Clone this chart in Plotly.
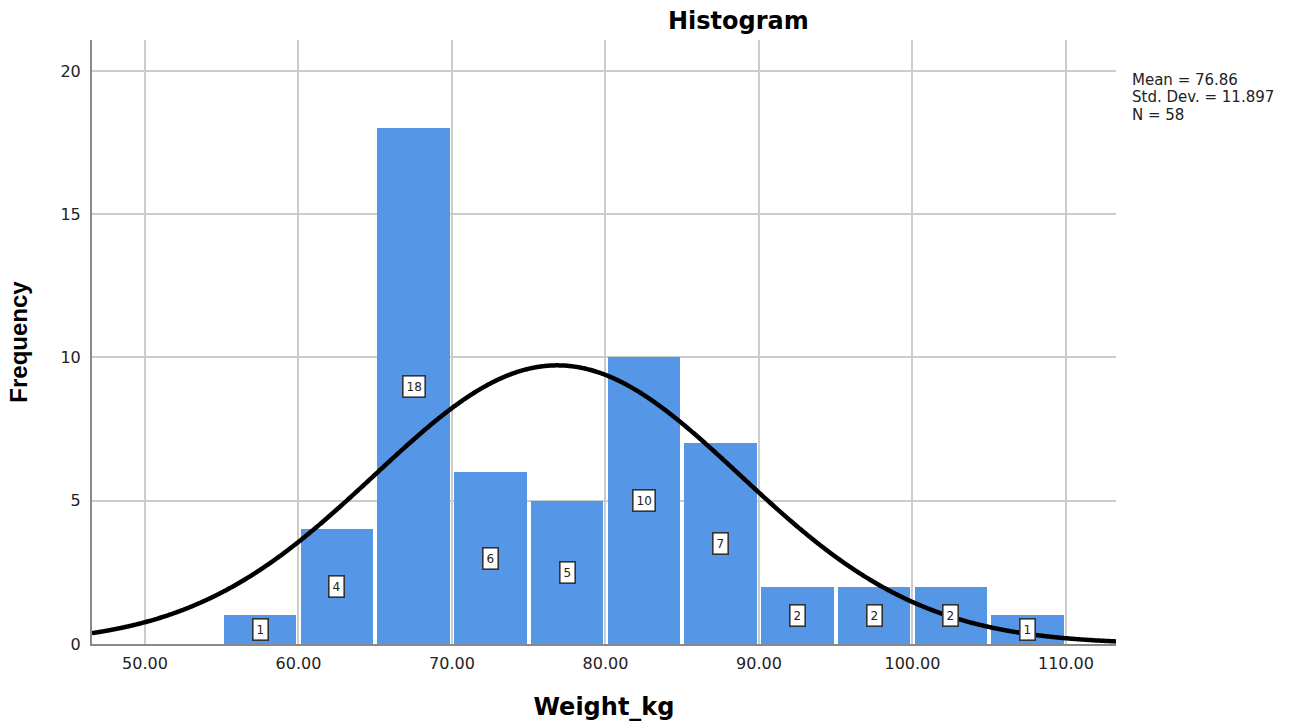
import numpy as np
import plotly.graph_objects as go

# Histogram bins (width 5 kg) and their frequencies
bin_starts = [55, 60, 65, 70, 75, 80, 85, 90, 95, 100, 105]
counts = [1, 4, 18, 6, 5, 10, 7, 2, 2, 2, 1]
bin_width = 5

# Summary statistics
mean_w = 76.86
sd_w = 11.897
n_obs = 58

x_ticks = [50, 60, 70, 80, 90, 100, 110]
x_tick_text = ["50.00", "60.00", "70.00", "80.00", "90.00", "100.00", "110.00"]
y_ticks = [0, 5, 10, 15, 20]

x_range = [46.55, 113.26]
y_range = [0, 21.08]

WIDE = "DejaVu Sans, Verdana, sans-serif"
ARIAL = "Liberation Sans, Arial, sans-serif"

centers = [s + bin_width / 2 for s in bin_starts]

fig = go.Figure()
fig.add_trace(go.Bar(
    x=centers, y=counts, width=[bin_width * 0.945] * len(counts),
    marker=dict(color="#5596E6", line=dict(width=0)),
    hoverinfo="x+y", showlegend=False,
))

# Normal curve scaled to the histogram (N * bin width)
xs = np.linspace(x_range[0], x_range[1], 1200)
ys = n_obs * bin_width / (sd_w * np.sqrt(2 * np.pi)) * np.exp(-0.5 * ((xs - mean_w) / sd_w) ** 2)
fig.add_trace(go.Scatter(
    x=xs, y=ys, mode="lines",
    line=dict(color="black", width=4.5, simplify=False),
    showlegend=False, hoverinfo="skip",
))

# Count labels at mid-height of each bar
for c, v in zip(centers, counts):
    fig.add_annotation(
        x=c, y=v / 2, text=str(v), showarrow=False,
        font=dict(family=WIDE, size=12, color="#222"),
        bgcolor="white", bordercolor="#333", borderwidth=1.6, borderpad=3,
    )

# Statistics block, one line per statistic
plot_h = 721 - 40 - 77
stat_lines = [f"Mean = {mean_w:.2f}", f"Std. Dev. = {sd_w:.3f}", f"N = {n_obs}"]
for i, line in enumerate(stat_lines):
    ypix = 80 + 17.5 * i
    fig.add_annotation(
        xref="paper", yref="paper", x=1.0135, y=(644 - ypix) / plot_h,
        xanchor="left", yanchor="middle", text=line, showarrow=False,
        font=dict(family=WIDE, size=15, color="#222"),
    )

# Chart title
fig.add_annotation(
    xref="paper", yref="paper", x=0.631, y=(644 - 21) / plot_h,
    xanchor="center", yanchor="middle", text="<b>Histogram</b>", showarrow=False,
    font=dict(family=WIDE, size=24, color="black"),
)

fig.update_layout(
    width=1304, height=721,
    margin=dict(l=92, r=188, t=40, b=77),
    paper_bgcolor="white", plot_bgcolor="white",
    bargap=0,
    font=dict(family=WIDE, color="#222"),
    xaxis=dict(
        range=x_range, tickvals=x_ticks, ticktext=x_tick_text, automargin=False,
        showgrid=True, gridcolor="#cccccc", gridwidth=2,
        showline=True, linecolor="#888", linewidth=2,
        zeroline=False, ticks="", tickfont=dict(family=WIDE, size=16, color="#222"),
        ticklabelstandoff=4,
        title=dict(text="<b>Weight_kg</b>", font=dict(family=WIDE, size=24, color="black"), standoff=26),
    ),
    yaxis=dict(
        range=y_range, tickvals=y_ticks, automargin=False,
        showgrid=True, gridcolor="#cccccc", gridwidth=2,
        showline=True, linecolor="#888", linewidth=2,
        zeroline=False, ticks="", tickfont=dict(family=WIDE, size=16, color="#222"),
        ticklabelstandoff=6,
        title=dict(text="<b>Frequency</b>", font=dict(family=ARIAL, size=24, color="black"), standoff=26),
    ),
)

fig.write_html("out.html")
